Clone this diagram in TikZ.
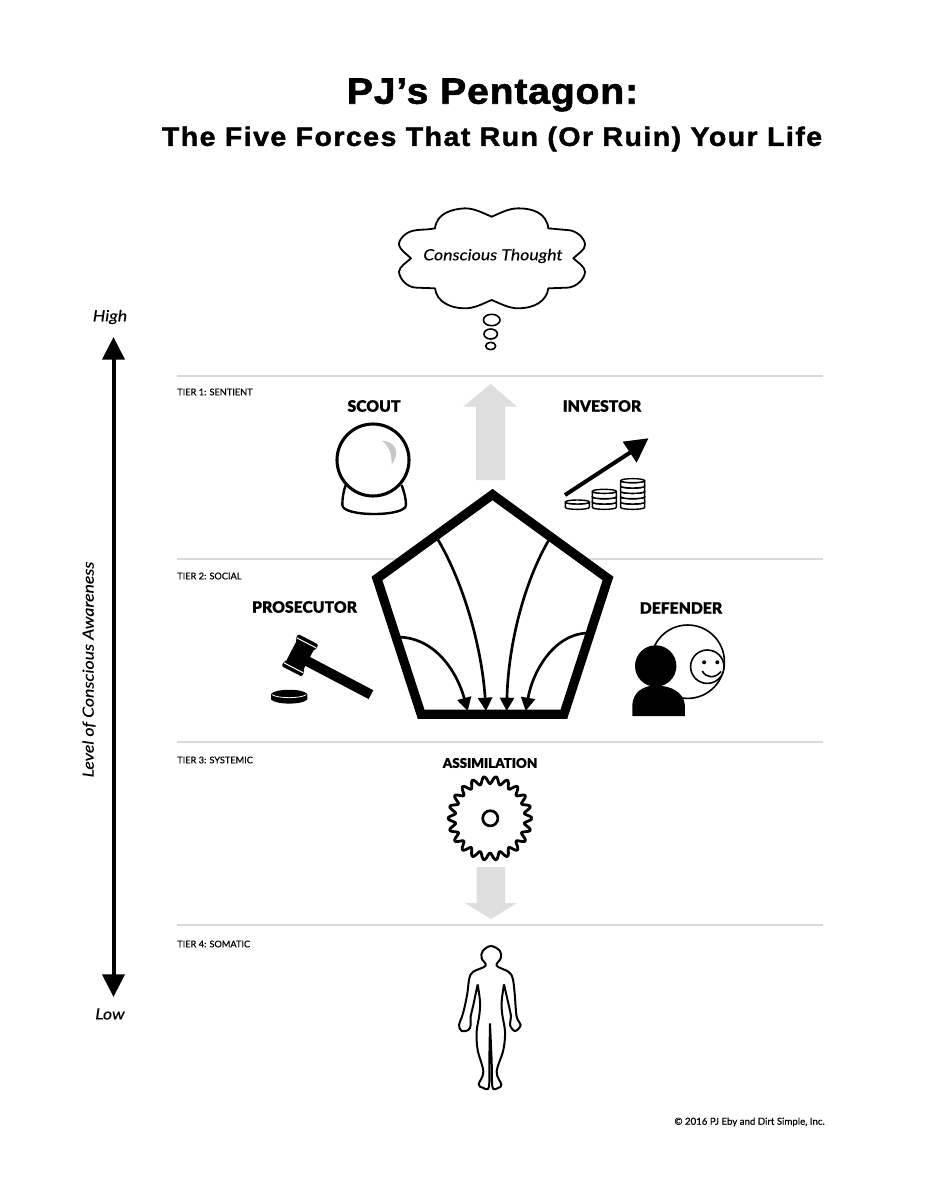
\documentclass[tikz,border=0pt]{standalone}
\usepackage{fontspec}
\setmainfont{Liberation Sans}
\newfontfamily\titlefont[FakeBold=1.5,FakeStretch=1.07,LetterSpace=2.1]{Liberation Sans Bold}
\newfontfamily\subtitlefont[FakeBold=1.5,FakeStretch=1.07,LetterSpace=5.4]{Liberation Sans Bold}
\newfontfamily\labfont{Lato}[FakeBold=0.4]
\newfontfamily\headfont{Lato Black}[FakeBold=0.5]
\newfontfamily\slantfont{Lato Italic}[FakeBold=0.25,FakeStretch=1.15]
\usetikzlibrary{arrows.meta}
\definecolor{tierline}{HTML}{D9D9D9}
\definecolor{flowgrey}{HTML}{DEDEDE}
\tikzset{
 x=.75pt,y=-.75pt,
 tierrule/.style={draw=tierline,line width=.9pt},
 tiertext/.style={anchor=west,inner sep=0,font=\labfont\fontsize{6.9}{8}\selectfont},
 headtext/.style={inner sep=0,font=\headfont\fontsize{11.8}{13}\selectfont},
 axistext/.style={inner sep=0,font=\slantfont\fontsize{11.5}{14}\selectfont},
 inflow/.style={draw=black,line width=2pt,-{Triangle[length=10pt,width=10.5pt]}},
 outline/.style={draw=black,fill=white,line join=round},
 zoomed/.style={x=.25pt,y=-.25pt},
}
\newcommand{\coinstack}[4]{% x, bottom y, coins
 \foreach \i in {1,...,#3}{
  \pgfmathsetmacro{\ya}{#2-(\i-1)*#4}
  \pgfmathsetmacro{\yb}{#2-\i*#4}
  \pgfmathsetmacro{\xl}{#1-36}\pgfmathsetmacro{\xr}{#1+36}
  \pgfmathsetmacro{\ybot}{\ya+8}\pgfmathsetmacro{\ytop}{\yb-8}\pgfmathsetmacro{\ymid}{\yb+8}
  \draw[outline,line width=1.05pt] (\xl,\yb) -- (\xl,\ya) .. controls (\xl,\ybot) and (\xr,\ybot) .. (\xr,\ya) -- (\xr,\yb) .. controls (\xr,\ymid) and (\xl,\ymid) .. cycle;
  \draw[outline,line width=1.05pt] (\xl,\yb) .. controls (\xl,\ytop) and (\xr,\ytop) .. (\xr,\yb) .. controls (\xr,\ymid) and (\xl,\ymid) .. cycle;
 }}
\begin{document}
\begin{tikzpicture}
\useasboundingbox (0,0) rectangle (927,1200);
\fill[white] (0,0) rectangle (927,1200);
% titles
\node[inner sep=0,font=\titlefont\fontsize{27.5}{30}\selectfont] (title) at (492.5,95) {PJ’s Pentagon:};
\node[inner sep=0,font=\subtitlefont\fontsize{20}{24}\selectfont] (subtitle) at (492,139) {The Five Forces That Run (Or Ruin) Your Life};
% tier rules
\coordinate (r1a) at (177,376); \coordinate (r1b) at (823,376);
\coordinate (r2a) at (177,559); \coordinate (r2b) at (823,559);
\coordinate (r3a) at (177,742); \coordinate (r3b) at (823,742);
\coordinate (r4a) at (177,925); \coordinate (r4b) at (823,925);
\draw[tierrule] (r1a)--(r1b); \draw[tierrule] (r2a)--(r2b);
\draw[tierrule] (r3a)--(r3b); \draw[tierrule] (r4a)--(r4b);
\node[tiertext] (t1) at (177,392) {TIER 1: SENTIENT};
\node[tiertext] (t2) at (177,576) {TIER 2: SOCIAL};
\node[tiertext] (t3) at (177,760) {TIER 3: SYSTEMIC};
\node[tiertext] (t4) at (177,944) {TIER 4: SOMATIC};
% awareness axis
\node[axistext] (high) at (110,317) {High};
\node[axistext] (low) at (110,1014) {Low};
\node[axistext,rotate=90] (level) at (89,669.5) {Level of Conscious Awareness};
\coordinate (axtop) at (113.5,337); \coordinate (axbot) at (113.5,997);
\draw[line width=3pt,{Triangle[length=17pt,width=16.5pt]}-{Triangle[length=17pt,width=16.5pt]}] (axtop)--(axbot);
% cloud
\begin{scope}[shift={(300,190)},zoomed]
\draw[outline,line width=1.35pt] (575,80) .. controls (550,70) and (525,55) .. (495,55)
 .. controls (455,57) and (410,70) .. (405,115)
 .. controls (370,122) and (345,115) .. (320,130) .. controls (305,140) and (295,155) .. (297,165)
 .. controls (300,180) and (320,192) .. (333,205)
 .. controls (320,217) and (298,230) .. (297,245) .. controls (298,265) and (320,293) .. (350,293) -- (405,295)
 .. controls (410,335) and (450,355) .. (495,355) .. controls (525,355) and (550,340) .. (575,330)
 .. controls (600,340) and (625,355) .. (655,355) .. controls (700,355) and (740,335) .. (745,295)
 -- (800,293) .. controls (830,293) and (855,265) .. (855,245) .. controls (855,230) and (833,217) .. (820,205)
 .. controls (833,192) and (855,180) .. (855,165) .. controls (855,145) and (830,120) .. (800,120)
 -- (745,115) .. controls (740,70) and (700,55) .. (655,55) .. controls (625,55) and (600,70) .. (575,80) -- cycle;
\end{scope}
\node[axistext] (thought) at (493,256) {Conscious Thought};
\draw[outline,line width=1.2pt] (491.7,320) ellipse [x radius=8.3,y radius=5.7];
\draw[outline,line width=1.2pt] (490.7,334) ellipse [x radius=6.7,y radius=5];
\draw[outline,line width=1.2pt] (490.7,346) ellipse [x radius=5,y radius=3.7];
% grey arrows
\fill[flowgrey] (490.7,384)--(517,406.7)--(505,406.7)--(505,480)--(476,480)--(476,406.7)--(463,406.7)--cycle;
\fill[flowgrey] (476.7,867)--(505,867)--(505,903)--(517,903)--(491,919)--(465,903)--(476.7,903)--cycle;
% force labels
\node[headtext] (scout) at (374,406) {SCOUT};
\node[headtext] (investor) at (602,406) {INVESTOR};
\node[headtext] (prosecutor) at (304.5,607) {PROSECUTOR};
\node[headtext] (defender) at (681,608) {DEFENDER};
\node[headtext,font=\headfont\fontsize{10}{12}\selectfont] (assim) at (490,763) {ASSIMILATION};
% crystal ball
\begin{scope}[shift={(300,190)},zoomed]
\draw[outline,line width=1.8pt] (137,885) .. controls (130,905) and (127,925) .. (127,945) .. controls (127,962) and (170,972) .. (222,972) .. controls (275,972) and (318,962) .. (318,945) .. controls (318,925) and (312,905) .. (305,885);
\draw[outline,line width=2.3pt] (219,810) circle [radius=108];
\fill[black!22] (246,752) .. controls (290,755) and (300,790) .. (275,824) .. controls (275,790) and (268,770) .. (246,752) -- cycle;
% investor
\draw[black,line width=3pt] (795,915) -- (1005,778);
\fill[black] (1045,745) -- (1010,818) -- (968,755) -- cycle;
\coinstack{832}{952}{1}{16}
\coinstack{913}{952}{3}{16}
\coinstack{998}{952}{5}{16}
\end{scope}
% pentagon
\coordinate (pa) at (492.5,494.6); \coordinate (pb) at (608,578.5);
\coordinate (pc) at (563.9,714.2); \coordinate (pd) at (421.1,714.2);
\coordinate (pe) at (377,578.5);
\draw[draw=black,fill=white,line width=6.9pt,miter limit=10] (pa)--(pb)--(pc)--(pd)--(pe)--cycle;
\coordinate (f1) at (437,538); \coordinate (g1) at (486,711);
\coordinate (f2) at (550,538); \coordinate (g2) at (506.7,711);
\coordinate (f3) at (397,637); \coordinate (g3) at (467.7,711);
\coordinate (f4) at (589,633); \coordinate (g4) at (525.7,711);
\draw[inflow] (f1) .. controls (465,585) and (482,650) .. (g1);
\draw[inflow] (f2) .. controls (522,585) and (508,650) .. (g2);
\draw[inflow] (f3) .. controls (437,637) and (458,675) .. (g3);
\draw[inflow] (f4) .. controls (555,633) and (533,670) .. (g4);
% gavel
\begin{scope}[shift={(260,620)},zoomed]
\draw[black,line width=7.5pt] (135,120) -- (333,224);
\draw[white,line width=.4pt] (328,236) .. controls (335,232) and (341,222) .. (340,212);
\fill[black,rounded corners=1pt] (114.5,42.3)--(175.1,73.5)--(166.9,89.6)--(162.4,87.3)--(129.2,151.3)--(133.7,153.6)--(125.5,169.7)--(64.9,138.5)--(73.1,122.4)--(77.6,124.7)--(110.8,60.7)--(106.3,58.4)--cycle;
\draw[white,line width=.75pt] (109.9,53.4) -- (168.7,83.8);
\draw[white,line width=.75pt] (71.3,128.2) -- (130.1,158.6);
\fill[black] (33,222) .. controls (45,205) and (130,205) .. (142,222) -- (142,238) .. controls (130,255) and (45,255) .. (33,238) -- cycle;
\draw[white,line width=.6pt] (36,224) .. controls (55,236) and (120,236) .. (139,224);
\end{scope}
% defender
\draw[outline,line width=1.2pt] (687.7,661.7) circle [radius=36.7];
\draw[outline,line width=1.2pt] (707.3,666.7) circle [radius=16.7];
\fill[black] (704.1,662.3) circle [radius=2];
\fill[black] (717.3,662.3) circle [radius=2];
\draw[black,line width=1.2pt] (702.3,671) .. controls (706,678) and (715,679) .. (721,671.5);
\fill[black] (632.3,716) -- (632.3,705) .. controls (633,693) and (642,685.5) .. (655.7,685.5) .. controls (672,685.5) and (684,693) .. (684.8,705) -- (684.8,716) -- cycle;
\fill[black] (655.7,666) circle [radius=20.7];
% gear
\draw[outline,line width=2.1pt] plot[domain=0:360,samples=265] ({490+(38.3+3.6*cos(22*\x))*cos(\x)},{818.3+(38.3+3.6*cos(22*\x))*sin(\x)});
\draw[outline,line width=2pt] (490.3,818.3) circle [radius=7.6];
% body
\begin{scope}[shift={(440,935)},zoomed]
\draw[draw=black,line width=1.5pt,line join=round]
 plot[smooth,tension=.6] coordinates {(113,148) (100,210) (92,245) (92,270) (85,285) (65,288) (57,270) (66,245) (74,215) (82,175) (88,130) (100,110) (137,92) (125,70) (128,48) (153,33) (180,48) (182,70) (170,92) (205,110) (218,130) (224,175) (230,245) (242,270) (225,288) (210,270) (213,245) (205,205) (192,148)}
 plot[smooth,tension=.6] coordinates {(113,148) (120,200) (118,240) (110,290) (113,345) (130,410) (116,448) (128,458) (144,462) (148,440) (148,380) (150,265)}
 plot[smooth,tension=.6] coordinates {(150,265) (155,380) (156,440) (160,462) (176,458) (184,448) (170,410) (190,345) (195,290) (187,240) (185,200) (192,148)};
\end{scope}
\node[anchor=east,inner sep=0,font=\labfont\fontsize{7.25}{9}\selectfont] (copy) at (825,1122) {© 2016 PJ Eby and Dirt Simple, Inc.};
\end{tikzpicture}
\end{document}
